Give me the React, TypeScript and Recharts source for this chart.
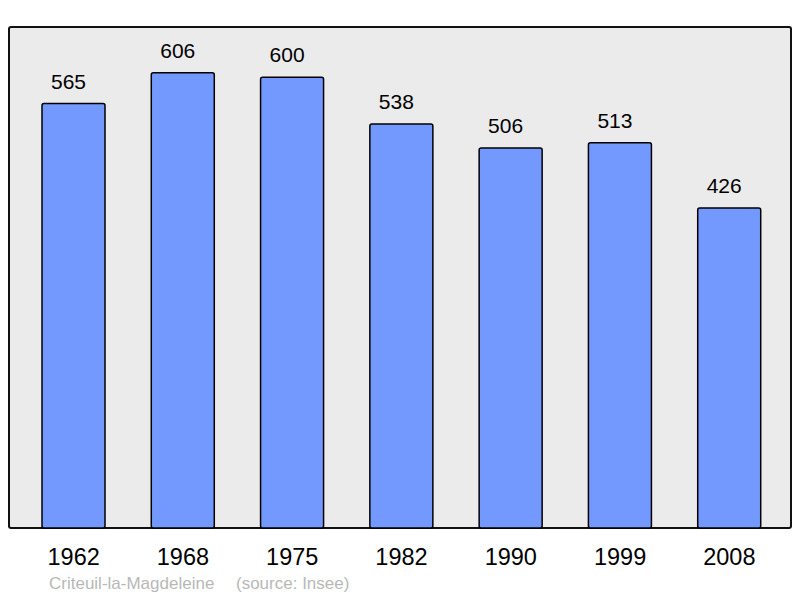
import { BarChart, Bar, XAxis, YAxis, LabelList } from "recharts";

// Population by census year
const years = ["1962", "1968", "1975", "1982", "1990", "1999", "2008"];
const population = [565, 606, 600, 538, 506, 513, 426];

const place = "Criteuil-la-Magdeleine";
const source = "(source: Insee)";

const FONT = "'Liberation Sans', Arial, sans-serif";

export default function App() {
  const data = years.map((year, i) => ({ year, population: population[i] }));

  return (
    <div style={{ position: "absolute", left: 0, top: 0, width: 800, height: 598, background: "#fff", fontFamily: FONT }}>
      {/* plot frame */}
      <div
        style={{
          position: "absolute",
          left: 8,
          top: 26,
          width: 784,
          height: 503,
          boxSizing: "border-box",
          border: "2px solid #111",
          borderRadius: 3,
          background: "#ebebeb",
        }}
      />
      <div style={{ position: "absolute", left: 0, top: 0 }}>
        <BarChart
          width={800}
          height={598}
          data={data}
          margin={{ top: 27, right: 9, bottom: 30, left: 9 }}
          barSize={63}
        >
          <XAxis
            dataKey="year"
            height={40}
            axisLine={false}
            tickLine={false}
            tickSize={0}
            tickMargin={20}
            padding={{ left: 10, right: 7 }}
            interval={0}
            tick={{ fontSize: 23.5, fill: "#000", fontFamily: FONT }}
          />
          <YAxis hide domain={[0, 667]} />
          <Bar
            dataKey="population"
            fill="#7399ff"
            stroke="#000"
            strokeWidth={1.5}
            radius={2}
            isAnimationActive={false}
          >
            <LabelList
              dataKey="population"
              position="top"
              offset={15}
              dx={-5}
              style={{ fontSize: 21, fill: "#000", fontFamily: FONT }}
            />
          </Bar>
        </BarChart>
      </div>
      <div style={{ position: "absolute", left: 49, top: 574, fontSize: 17, color: "#b8b8b8", whiteSpace: "nowrap" }}>
        {place}
      </div>
      <div style={{ position: "absolute", left: 236, top: 574, fontSize: 17, color: "#b8b8b8", whiteSpace: "nowrap" }}>
        {source}
      </div>
    </div>
  );
}
